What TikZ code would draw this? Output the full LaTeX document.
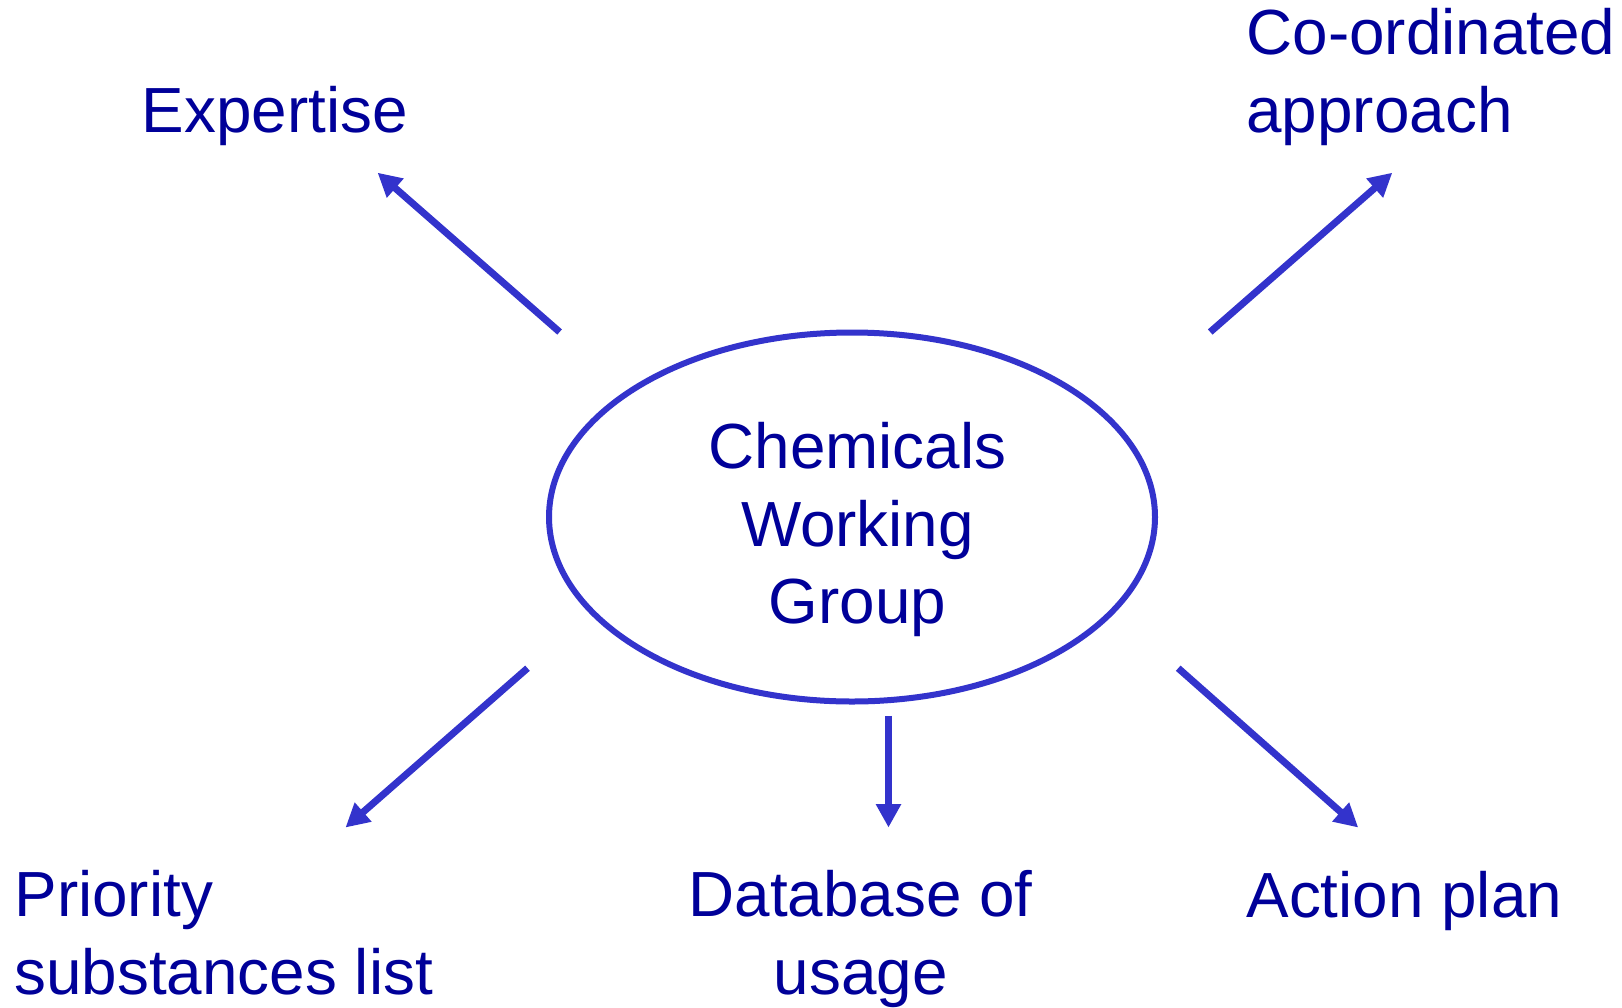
\documentclass[tikz,border=0pt]{standalone}
\usepackage{fontspec}
\setmainfont{Liberation Sans}
\usetikzlibrary{arrows.meta,shapes.geometric}
\definecolor{txtblue}{HTML}{000099}
\definecolor{lineblue}{HTML}{3333CC}
\begin{document}
\begin{tikzpicture}[x=1pt,y=-1pt,
  lbl/.style={text=txtblue,font=\fontsize{63.8}{77.6}\selectfont,inner sep=0pt,outer sep=0pt},
  outarrow/.style={draw=lineblue,line width=7pt,-{Triangle[length=23.5pt,width=24pt]}},
  hub/.style={draw=lineblue,line width=6pt,ellipse,minimum width=606pt,minimum height=369pt,inner sep=0pt}]
\useasboundingbox (0,0) rectangle (1622,1007);
\fill[white] (0,0) rectangle (1622,1007);
\node[hub] (cwg) at (852,517) {};
\node[lbl,align=center,anchor=base] (cwgtext) at (857.5,623.8) {Chemicals\\Working\\Group};
\node[lbl,anchor=base west] (expertise) at (141.7,132.4) {Expertise};
\node[lbl,align=left,anchor=base west] (coord) at (1246.5,132.4) {Co-ordinated\\approach};
\node[lbl,align=left,anchor=base west] (priority) at (14.5,994) {Priority\\substances list};
\node[lbl,align=center,anchor=base] (database) at (860.6,994) {Database of\\usage};
\node[lbl,anchor=base west] (action) at (1246.5,917.5) {Action plan};
\coordinate (s1) at (559.6,332);   \coordinate (t1) at (377.6,172.7);
\coordinate (s2) at (1210.2,332);  \coordinate (t2) at (1392.3,172.7);
\coordinate (s3) at (527.5,668.2); \coordinate (t3) at (345.5,827.5);
\coordinate (s4) at (888.5,715.8); \coordinate (t4) at (888.5,827.5);
\coordinate (s5) at (1178.2,668.2);\coordinate (t5) at (1358.2,827.5);
\draw[outarrow] (s1) -- (t1);
\draw[outarrow] (s2) -- (t2);
\draw[outarrow] (s3) -- (t3);
\draw[outarrow] (s4) -- (t4);
\draw[outarrow] (s5) -- (t5);
\end{tikzpicture}
\end{document}
